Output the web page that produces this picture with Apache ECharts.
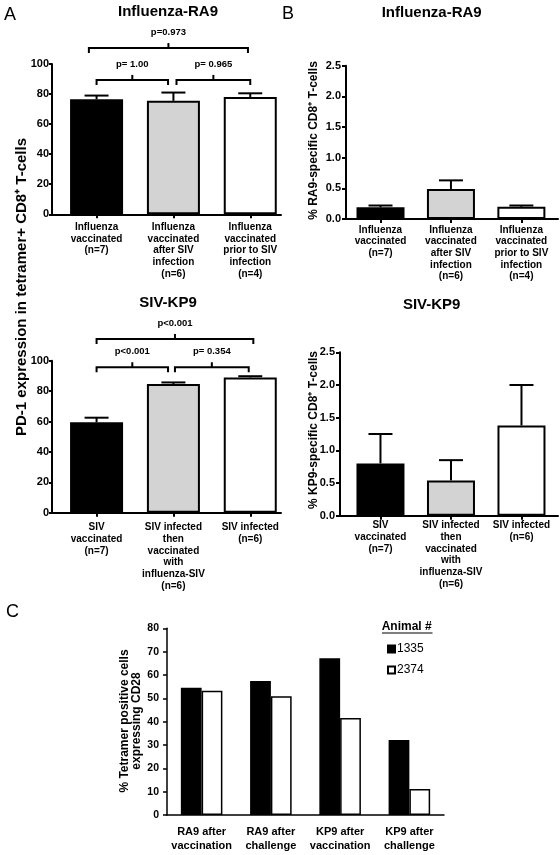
<!DOCTYPE html>
<html>
<head>
<meta charset="utf-8">
<script src="https://cdn.jsdelivr.net/npm/echarts@6/dist/echarts.min.js"></script>
<style>
  html, body { margin: 0; padding: 0; background: #fff; }
  #chart { width: 560px; height: 855px; }
</style>
</head>
<body>
<div id="chart"></div>
<script>
// ---------- DATA ----------
const catsRA9 = ['Influenza\nvaccinated\n(n=7)', 'Influenza\nvaccinated\nafter SIV\ninfection\n(n=6)', 'Influenza\nvaccinated\nprior to SIV\ninfection\n(n=4)'];
const catsKP9 = ['SIV\nvaccinated\n(n=7)', 'SIV infected\nthen\nvaccinated\nwith\ninfluenza-SIV\n(n=6)', 'SIV infected\n(n=6)'];

const pd1RA9 = [76.5, 75.5, 78.0];
const pd1RA9Err = [2.5, 5.5, 2.5];
const pd1KP9 = [59.5, 84.7, 89.0];
const pd1KP9Err = [3.0, 1.0, 0.8];

const freqRA9 = [0.19, 0.49, 0.20];
const freqRA9Err = [0.03, 0.14, 0.02];
const freqKP9 = [0.80, 0.54, 1.38];
const freqKP9Err = [0.45, 0.31, 0.62];

const pRA9 = ['p= 1.00', 'p= 0.965', 'p=0.973'];
const bracketsRA9 = [[0, 0.93, 89.4], [1.04, 2.0, 89.4], [-0.1, 1.97, 110.6]];
const pKP9 = ['p<0.001', 'p= 0.354', 'p<0.001'];
const bracketsKP9 = [[0, 0.93, 95.7], [1.02, 1.98, 95.7], [0, 2.04, 114.3]];

const catsC = ['RA9 after\nvaccination', 'RA9 after\nchallenge', 'KP9 after\nvaccination', 'KP9 after\nchallenge'];
const animals = ['1335', '2374'];
const cd28_1335 = [54.5, 57.4, 67.2, 32.1];
const cd28_2374 = [53.2, 50.9, 41.6, 11.1];

const yTicksPD1 = [0, 100, 20];
const yTicksFreq = [0, 2.5, 0.5];
const yTicksC = [0, 80, 10];

// ---------- STYLE ----------
const FF = '"Liberation Sans", Arial, Helvetica, sans-serif';
const groupFills = ['#000000', '#d3d3d3', '#ffffff'];

function barSeries(gi, vals, width) {
  return {
    type: 'bar', xAxisIndex: gi, yAxisIndex: gi, barWidth: width, z: 3,
    data: vals.map((v, i) => ({ value: [i, v], itemStyle: { color: groupFills[i] } })),
    itemStyle: { borderColor: '#000', borderWidth: 2 },
    emphasis: { disabled: true }, animation: false
  };
}
function errSeries(gi, vals, errs) {
  return {
    type: 'custom', xAxisIndex: gi, yAxisIndex: gi, z: 2, animation: false,
    data: vals.map((v, i) => [i, v, errs[i]]),
    renderItem: function (params, api) {
      const x = api.value(0), v = api.value(1), e = api.value(2);
      const p0 = api.coord([x, v]);
      const p1 = api.coord([x, v + e]);
      return { type: 'group', children: [
        { type: 'line', shape: { x1: p0[0], y1: p0[1], x2: p1[0], y2: p1[1] }, style: { stroke: '#000', lineWidth: 2 } },
        { type: 'line', shape: { x1: p1[0] - 12, y1: p1[1], x2: p1[0] + 12, y2: p1[1] }, style: { stroke: '#000', lineWidth: 2 } }
      ]};
    }
  };
}
function bracketSeries(gi, brackets, labels) {
  return {
    type: 'custom', xAxisIndex: gi, yAxisIndex: gi, z: 4, animation: false, clip: false,
    data: brackets,
    renderItem: function (params, api) {
      const a = api.coord([api.value(0), api.value(2)]);
      const b = api.coord([api.value(1), api.value(2)]);
      const mid = (a[0] + b[0]) / 2, y = a[1];
      const st = { stroke: '#000', lineWidth: 2, fill: null };
      return { type: 'group', children: [
        { type: 'polyline', shape: { points: [[a[0], y + 5], [a[0], y], [b[0], y], [b[0], y + 5]] }, style: st },
        { type: 'line', shape: { x1: mid, y1: y, x2: mid, y2: y - 5 }, style: st },
        { type: 'text', x: mid, y: y - 16, style: { text: labels[params.dataIndex], font: 'bold 9.5px ' + FF, fill: '#000', align: 'center', verticalAlign: 'middle' } }
      ]};
    }
  };
}
function xCatValueAxis(gi, min, max, cats, margin) {
  return {
    type: 'value', gridIndex: gi, min: min, max: max,
    splitLine: { show: false },
    axisLine: { show: true, onZero: false, lineStyle: { color: '#000', width: 2 } },
    axisTick: { show: true, customValues: [0, 1, 2], length: 4, lineStyle: { color: '#000', width: 2 } },
    axisLabel: { customValues: [0, 1, 2], formatter: v => cats[Math.round(v)], fontFamily: FF, fontSize: 10, fontWeight: 'bold', color: '#000', lineHeight: 11.7, margin: margin }
  };
}
function yValAxis(gi, ticks, margin, tickLen, digits) {
  return {
    type: 'value', gridIndex: gi, min: ticks[0], max: ticks[1], interval: ticks[2],
    splitLine: { show: false },
    axisLine: { show: true, onZero: false, lineStyle: { color: '#000', width: 2 } },
    axisTick: { show: true, length: tickLen, lineStyle: { color: '#000', width: 2 } },
    axisLabel: { fontFamily: FF, fontSize: 11, fontWeight: 'bold', color: '#000', margin: margin,
      formatter: v => digits ? v.toFixed(digits) : String(v) }
  };
}
function txt(x, y, text, font, extra) {
  return Object.assign({ type: 'text', x: x, y: y, silent: true,
    style: { text: text, font: font, fill: '#000', align: 'center', verticalAlign: 'middle', textAlign: 'center', textVerticalAlign: 'middle' } }, extra || {});
}

const chart = echarts.init(document.getElementById('chart'), null, { renderer: 'canvas' });
const option = {
  backgroundColor: '#fff',
  animation: false,
  textStyle: { fontFamily: FF },
  grid: [
    { left: 52, top: 64, width: 229, height: 150.3 },
    { left: 52, top: 360.7, width: 229, height: 152 },
    { left: 346, top: 65.7, width: 212, height: 153.3 },
    { left: 340, top: 352.3, width: 218, height: 163.4 },
    { left: 167, top: 628.3, width: 277, height: 186.7 }
  ],
  xAxis: [
    xCatValueAxis(0, -0.58, 2.40, catsRA9, 7),
    xCatValueAxis(1, -0.58, 2.40, catsKP9, 9),
    xCatValueAxis(2, -0.49, 2.52, catsRA9, 5),
    xCatValueAxis(3, -0.574, 2.518, catsKP9, 4),
    {
      type: 'category', gridIndex: 4, data: catsC,
      axisLine: { lineStyle: { color: '#000', width: 1.5 } },
      axisTick: { length: 4, lineStyle: { color: '#000', width: 1.5 } },
      axisLabel: { fontFamily: FF, fontSize: 11, fontWeight: 'bold', color: '#000', lineHeight: 14, margin: 10, interval: 0 }
    }
  ],
  yAxis: [
    yValAxis(0, yTicksPD1, 3, 3, 0),
    yValAxis(1, yTicksPD1, 3, 3, 0),
    yValAxis(2, yTicksFreq, 5, 4, 1),
    yValAxis(3, yTicksFreq, 5, 4, 1),
    {
      type: 'value', gridIndex: 4, min: yTicksC[0], max: yTicksC[1], interval: yTicksC[2],
      splitLine: { show: false },
      axisLine: { show: true, lineStyle: { color: '#000', width: 1.5 } },
      axisTick: { show: true, length: 4, lineStyle: { color: '#000', width: 1.5 } },
      axisLabel: { fontFamily: FF, fontSize: 10.5, fontWeight: 'bold', color: '#000', margin: 8 }
    }
  ],
  legend: {
    orient: 'vertical', left: 387, top: 643, padding: 0, itemGap: 9,
    itemWidth: 7, itemHeight: 7, icon: 'rect', selectedMode: false,
    data: animals,
    textStyle: { fontFamily: FF, fontSize: 12, color: '#000', padding: [0, 0, 0, -3] }
  },
  series: [
    errSeries(0, pd1RA9, pd1RA9Err), barSeries(0, pd1RA9, 53), bracketSeries(0, bracketsRA9, pRA9),
    errSeries(1, pd1KP9, pd1KP9Err), barSeries(1, pd1KP9, 53), bracketSeries(1, bracketsKP9, pKP9),
    errSeries(2, freqRA9, freqRA9Err), barSeries(2, freqRA9, 48),
    errSeries(3, freqKP9, freqKP9Err), barSeries(3, freqKP9, 48),
    {
      name: animals[0], type: 'bar', xAxisIndex: 4, yAxisIndex: 4, data: cd28_1335,
      barWidth: '30%', barGap: '0%',
      itemStyle: { color: '#000', borderColor: '#000', borderWidth: 1.5 }, emphasis: { disabled: true }
    },
    {
      name: animals[1], type: 'bar', xAxisIndex: 4, yAxisIndex: 4, data: cd28_2374,
      barWidth: '30%', barGap: '0%',
      itemStyle: { color: '#fff', borderColor: '#000', borderWidth: 1.5 }, emphasis: { disabled: true }
    }
  ],
  graphic: [
    txt(10, 15.5, 'A', '18px ' + FF),
    txt(288, 14, 'B', '18px ' + FF),
    txt(12.5, 612.5, 'C', '18px ' + FF),
    txt(168, 12, 'Influenza-RA9', 'bold 15px ' + FF),
    txt(431.7, 13, 'Influenza-RA9', 'bold 15px ' + FF),
    txt(168, 303, 'SIV-KP9', 'bold 15px ' + FF),
    txt(431.7, 305, 'SIV-KP9', 'bold 15px ' + FF),
    txt(22, 287, 'PD-1 expression in tetramer+ CD8\u207A T-cells', 'bold 15px ' + FF, { rotation: Math.PI / 2 }),
    txt(314, 140.5, '% RA9-specific CD8\u207A T-cells', 'bold 12px ' + FF, { rotation: Math.PI / 2 }),
    txt(314, 430, '% KP9-specific CD8\u207A T-cells', 'bold 12px ' + FF, { rotation: Math.PI / 2 }),
    { type: 'text', x: 131, y: 721, rotation: Math.PI / 2, silent: true,
      style: { text: '% Tetramer positive cells\nexpressing CD28', font: 'bold 12px ' + FF, fill: '#000', lineHeight: 12,
        align: 'center', verticalAlign: 'middle', textAlign: 'center', textVerticalAlign: 'middle' } },
    txt(406.7, 626.7, 'Animal #', 'bold 12px ' + FF),
    { type: 'line', silent: true, shape: { x1: 382, y1: 633, x2: 432.5, y2: 633 }, style: { stroke: '#000', lineWidth: 1 } }
  ]
};
chart.setOption(option);
</script>
</body>
</html>
